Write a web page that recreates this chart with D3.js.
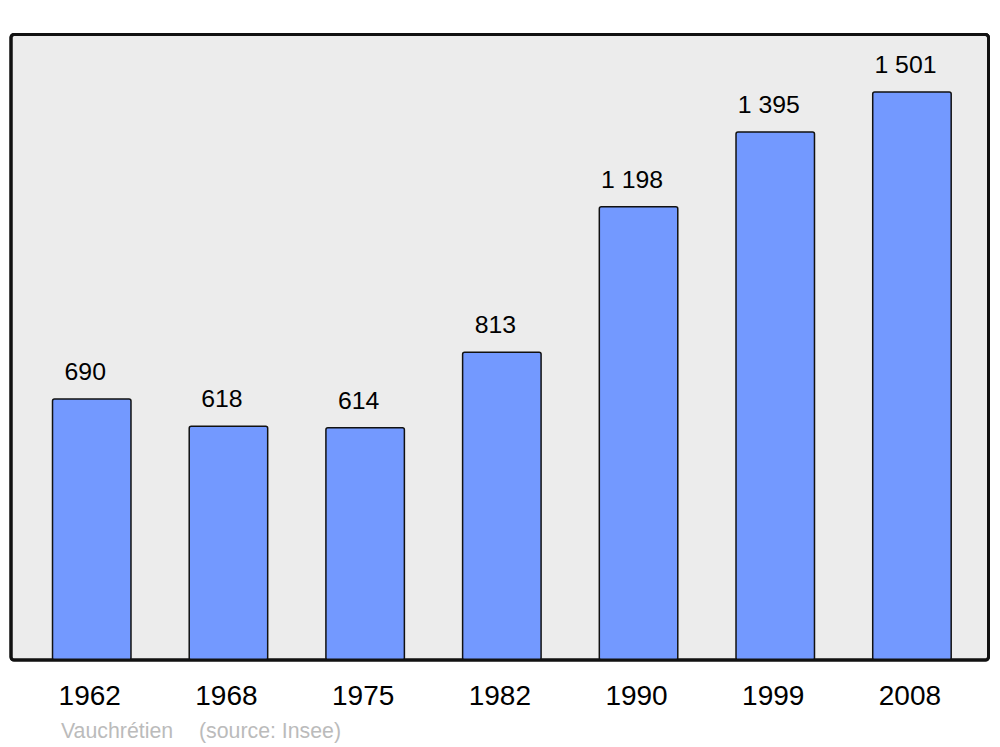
<!DOCTYPE html>
<html><head><meta charset="utf-8">
<script src="https://cdn.jsdelivr.net/npm/d3@7"></script>
<style>body{margin:0;background:#fff}svg{display:block}</style>
</head><body>
<svg id="c" width="1000" height="747"></svg>
<script>
const years = ["1962","1968","1975","1982","1990","1999","2008"];
const population = [690, 618, 614, 813, 1198, 1395, 1501];
const valueLabels = ["690","618","614","813","1 198","1 395","1 501"];
const footerTown = "Vauchrétien";
const footerSource = "(source: Insee)";

const svg = d3.select("#c");
const font = "'Liberation Sans', Arial, sans-serif";

// frame
svg.append("rect").attr("x",11).attr("y",34.5).attr("width",977.5).attr("height",625.5)
  .attr("rx",3).attr("fill","#ececec").attr("stroke","#111").attr("stroke-width",3);

const x = d3.scaleBand().domain(years).range([23.4, 980.3]).paddingInner(0.426).paddingOuter(0.213);
const y = d3.scaleLinear().domain([0, 1501]).range([660, 92]);

svg.selectAll("rect.bar").data(years).join("rect").attr("class","bar")
  .attr("x", d => x(d)).attr("width", x.bandwidth())
  .attr("y", (d,i) => y(population[i])).attr("height", (d,i) => y(0) - y(population[i]))
  .attr("rx",2).attr("fill","#7399ff").attr("stroke","#111").attr("stroke-width",1.5);

svg.selectAll("text.val").data(years).join("text").attr("class","val")
  .attr("x", d => x(d) + x.bandwidth()/2 - 6.5).attr("y", (d,i) => y(population[i]) - 19)
  .attr("text-anchor","middle").attr("font-family",font).attr("font-size",24.8).attr("fill","#000")
  .text((d,i) => valueLabels[i]);

// redraw frame border on top of bars' bottom
svg.append("rect").attr("x",11).attr("y",34.5).attr("width",977.5).attr("height",625.5)
  .attr("rx",3).attr("fill","none").attr("stroke","#111").attr("stroke-width",3);

svg.selectAll("text.yr").data(years).join("text").attr("class","yr")
  .attr("x", d => x(d) + x.bandwidth()/2 - 2).attr("y", 704.5)
  .attr("text-anchor","middle").attr("font-family",font).attr("font-size",28).attr("fill","#000")
  .text(d => d);

svg.append("text").attr("x",61).attr("y",737.5).attr("font-family",font).attr("font-size",21.3)
  .attr("fill","#bbbbbb").text(footerTown);
svg.append("text").attr("x",199).attr("y",737.5).attr("font-family",font).attr("font-size",21.3)
  .attr("fill","#bbbbbb").text(footerSource);
</script>
</body></html>
